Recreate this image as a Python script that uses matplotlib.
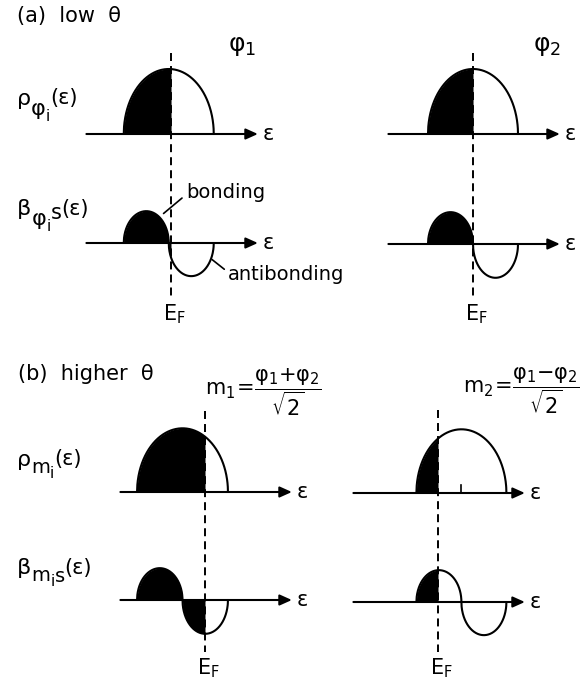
import numpy as np
import matplotlib.pyplot as plt

plt.rcParams["font.family"] = "DejaVu Sans"
plt.rcParams["mathtext.fontset"] = "dejavusans"

W, H = 587, 682

# Band model for each column; energies relative to E_F, in band half-widths
band_center = [-0.05, 0.0, -0.5, 0.52]
band_halfwidth = [1.0, 1.0, 1.01, 1.0]
rho_peak = [1.0, 1.0, 0.98, 0.98]
bond_peak = [0.49, 0.49, 0.49, 0.49]
anti_peak = [0.51, 0.52, 0.52, 0.51]
fermi = [0.0, 0.0, 0.0, 0.0]
center_tick = [False, False, False, True]
axis_span = (-1.88, 1.93)

# row labels as (text, fontsize, baseline drop in px) pieces
row_labels = [
    ([("ρ", 16, 0), ("φ", 16, 10), ("i", 11, 16), ("(ε)", 15, -1)], 105),
    ([("β", 16, 0), ("φ", 16, 10), ("i", 11, 16), ("s", 15, 4), ("(ε)", 15, 0)], 215),
    ([("ρ", 16, 0), ("m", 14, 7), ("i", 11, 12), ("(ε)", 15, -1)], 466),
    ([("β", 16, 0), ("m", 14, 7), ("i", 11, 12), ("s", 14, 8), ("(ε)", 15, 0)], 574),
]

# layout in pixels
ef_x = [171, 473, 205, 438]
rho_y = [134, 134, 492, 493]
beta_y = [243, 244, 600, 602]
dash_top = [53, 53, 411, 410]
dash_bot = [298, 298, 652, 652]
ef_label_y = [302, 302, 656, 656]
PX_E = 45.0
PX_D = 65.0
LW = 1.5


def half_ellipse(e, c, w, h):
    u = (e - c) / w
    return h * np.sqrt(np.clip(1.0 - u ** 2, 0.0, None))


def fx(x):
    return x / W


def fy(y):
    return 1.0 - y / H


def draw_curve(ax, e, y, base, ef):
    ax.fill_between(e, base, base + y, where=e <= ef + 1e-9, color="black",
                    interpolate=True, lw=0)
    ax.plot(e, base + y, color="black", lw=LW, solid_capstyle="round")


def draw_axis(ax, base, ex, ey):
    ax.annotate("", xy=(axis_span[1], base), xytext=(axis_span[0], base),
                arrowprops=dict(arrowstyle="-|>,head_length=0.6,head_width=0.27",
                                lw=LW, color="black", mutation_scale=12,
                                shrinkA=0, shrinkB=0))
    fig.text(fx(ex + axis_span[1] * PX_E + 5), fy(ey), "ε", fontsize=15,
             ha="left", va="center")


def chain_label(x, y, pieces):
    renderer = fig.canvas.get_renderer()
    for s, size, dy in pieces:
        t = fig.text(fx(x), fy(y + dy), s, fontsize=size, ha="left", va="baseline")
        x = t.get_window_extent(renderer).x1


fig = plt.figure(figsize=(W / 100, H / 100), dpi=100)

for i in range(4):
    c, w, ef = band_center[i], band_halfwidth[i], fermi[i]
    left = ef_x[i] - 4 * PX_E
    top = rho_y[i] - 2 * PX_D
    ax = fig.add_axes([fx(left), fy(top + 7 * PX_D), 8 * PX_E / W, 7 * PX_D / H])
    ax.set_xlim(-4, 4)
    ax.set_ylim(-5, 2)
    ax.axis("off")
    ax.patch.set_alpha(0)

    e = np.sort(np.append(np.linspace(c - w, c + w, 600), [ef, c]))

    # density of states
    rho = half_ellipse(e, c, w, rho_peak[i])
    draw_curve(ax, e, rho, 0.0, ef)
    draw_axis(ax, 0.0, ef_x[i], rho_y[i])
    if center_tick[i]:
        ax.plot([c, c], [0, 0.12], color="black", lw=1.2)

    # bond order density: bonding lobe below the band centre, antibonding above
    b0 = -(beta_y[i] - rho_y[i]) / PX_D
    beta = np.where(e <= c,
                    half_ellipse(e, c - w / 2, w / 2, bond_peak[i]),
                    -half_ellipse(e, c + w / 2, w / 2, anti_peak[i]))
    draw_curve(ax, e, beta, b0, ef)
    draw_axis(ax, b0, ef_x[i], beta_y[i])

    # Fermi level
    ax.plot([ef, ef], [(rho_y[i] - dash_top[i]) / PX_D, -(dash_bot[i] - rho_y[i]) / PX_D],
            color="black", lw=1.4, ls=(0, (4.1, 2.6)))
    fig.text(fx(ef_x[i] + 3), fy(ef_label_y[i]), r"$\mathrm{E_F}$", fontsize=15,
             ha="center", va="top")

    if i == 0:
        xb = c - w / 2 + 0.29
        ax.annotate("bonding",
                    xy=(xb, b0 + half_ellipse(xb, c - w / 2, w / 2, bond_peak[i])),
                    xytext=(0.33, b0 + 0.77), fontsize=14, ha="left", va="center",
                    arrowprops=dict(arrowstyle="-", lw=1.2, color="black",
                                    relpos=(0, 0.4), shrinkA=1, shrinkB=4))
        xa = c + w / 2 + 0.44
        ax.annotate("antibonding",
                    xy=(xa, b0 - half_ellipse(xa, c + w / 2, w / 2, anti_peak[i])),
                    xytext=(1.27, b0 - 0.48), fontsize=14, ha="left", va="center",
                    arrowprops=dict(arrowstyle="-", lw=1.2, color="black",
                                    relpos=(0, 0.6), shrinkA=1, shrinkB=1))

# panel titles and column headers
fig.text(fx(17), fy(22), "(a)  low  θ", fontsize=15, ha="left", va="baseline")
fig.text(fx(18), fy(380), "(b)  higher  θ", fontsize=15, ha="left", va="baseline")
fig.text(fx(228), fy(51), r"$\mathrm{\varphi_1}$", fontsize=18, ha="left", va="baseline")
fig.text(fx(533), fy(51), r"$\mathrm{\varphi_2}$", fontsize=18, ha="left", va="baseline")
fig.text(fx(205), fy(392), r"$\mathrm{m_1\!=\!\dfrac{\varphi_1{+}\varphi_2}{\sqrt{2}}}$",
         fontsize=15, ha="left", va="center")
fig.text(fx(463), fy(391), r"$\mathrm{m_2\!=\!\dfrac{\varphi_1{-}\varphi_2}{\sqrt{2}}}$",
         fontsize=15, ha="left", va="center")

for pieces, y in row_labels:
    chain_label(17, y, pieces)

fig.savefig("out.png", dpi=100, facecolor="white")
